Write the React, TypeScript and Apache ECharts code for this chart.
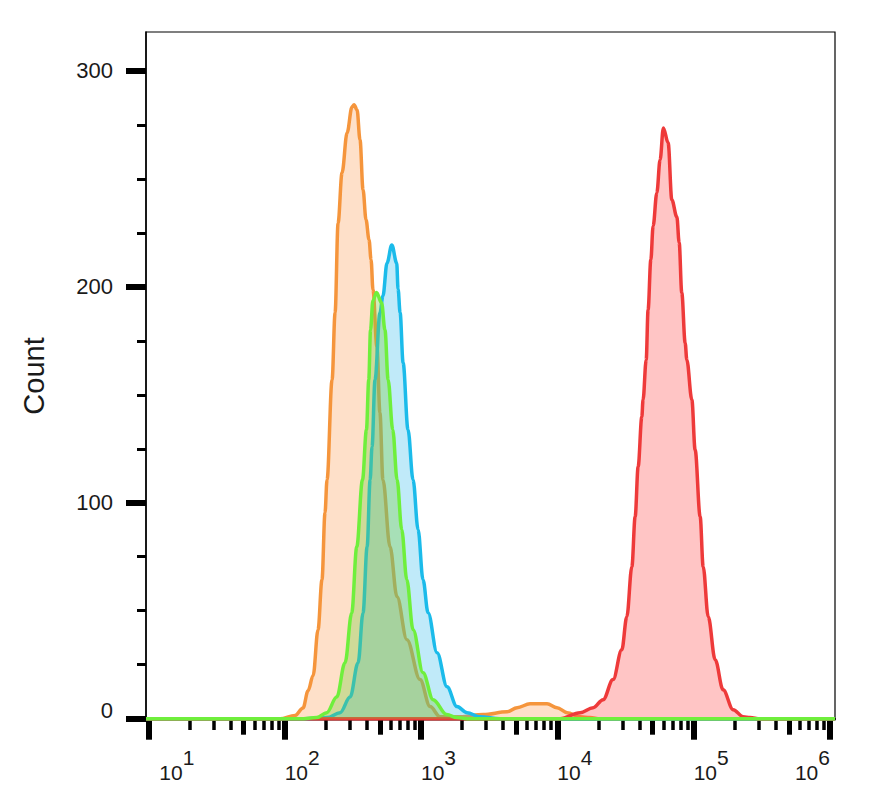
import React, { useEffect, useRef } from 'react';
import * as echarts from 'echarts';

// x values are log10 of fluorescence intensity (decades)
const X_MIN = 0.983;
const X_MAX = 6.037;
const Y_MIN = -0.6;
const Y_MAX = 318;

const decadeTicks = [1, 2, 3, 4, 5, 6];
const decadeLabels = [1, 2, 3, 4, 5];
const lastDecadeLabel = [6];
const halfDecadeMultipliers = [5];
const minorMultipliers = [2, 3, 4, 6, 7, 8, 9];
const yMajorTicks = [0, 100, 200, 300];
const yMinorTicks = [25, 50, 75, 125, 150, 175, 225, 250, 275];

const orangeLog = [0.983, 1.966, 2.076, 2.135, 2.172, 2.209, 2.245, 2.274, 2.296, 2.311, 2.348, 2.37, 2.392, 2.421, 2.458, 2.494, 2.509, 2.531, 2.553, 2.575, 2.597, 2.619, 2.634, 2.648, 2.677, 2.699, 2.721, 2.773, 2.824, 2.897, 2.993, 3.067, 3.14, 3.287, 3.456, 3.632, 3.705, 3.8, 3.925, 3.998, 4.072, 4.167, 4.24, 4.314, 6.037];
const orangeCount = [0, 0, 1.5, 5, 13, 20, 41.2, 64.4, 95.4, 110.6, 157, 188, 229.6, 252.8, 271.3, 283.3, 284.3, 282, 268, 245, 231, 221.8, 212.5, 198.6, 172.2, 141.7, 110.6, 79.6, 56.5, 36.6, 18.1, 5.6, 0.9, 0.9, 1.9, 3.2, 5.1, 6.9, 6.9, 5.1, 2.8, 0.9, 0.5, 0, 0];

const blueLog = [0.983, 2.113, 2.311, 2.407, 2.48, 2.539, 2.575, 2.605, 2.627, 2.641, 2.663, 2.699, 2.721, 2.751, 2.786, 2.822, 2.832, 2.847, 2.869, 2.905, 2.942, 2.979, 3.015, 3.052, 3.118, 3.191, 3.264, 3.338, 3.433, 3.58, 6.037];
const blueCount = [0, 0, 0.5, 2.8, 10, 25.9, 49, 79.6, 110.6, 125.9, 157, 187.9, 195.8, 211, 219.4, 211, 199, 188, 164.8, 133.8, 110.6, 87.5, 64.4, 49.1, 30.6, 14.8, 5.6, 2.8, 0.9, 0, 0];

const redLog = [0.983, 4.021, 4.167, 4.263, 4.336, 4.409, 4.473, 4.51, 4.547, 4.571, 4.593, 4.62, 4.629, 4.652, 4.666, 4.686, 4.703, 4.73, 4.754, 4.778, 4.813, 4.84, 4.877, 4.894, 4.913, 4.938, 4.95, 4.987, 5.011, 5.048, 5.07, 5.107, 5.158, 5.216, 5.29, 5.363, 5.414, 5.487, 6.037];
const redCount = [0, 0, 2.8, 5.1, 8.8, 18.1, 31.9, 47.2, 70.4, 93.5, 116.7, 139.8, 147.7, 166.2, 189.4, 212.5, 228.2, 243.5, 258.8, 273.6, 266.7, 240.3, 232.4, 220.4, 197.2, 174, 166.2, 147.7, 124.5, 93.5, 70.4, 47.2, 27.3, 13.4, 4.2, 0.9, 0.5, 0, 0];

const greenLog = [0.983, 2.113, 2.236, 2.309, 2.382, 2.443, 2.492, 2.529, 2.571, 2.6, 2.617, 2.63, 2.647, 2.674, 2.711, 2.736, 2.759, 2.793, 2.825, 2.859, 2.896, 2.942, 3.015, 3.089, 3.189, 3.263, 3.36, 6.037];
const greenCount = [0, 0, 0.5, 2.8, 10, 25.9, 49, 79.6, 110.6, 133.8, 157, 180, 193.5, 197.4, 192.6, 180, 157, 133.8, 110.6, 87.5, 64.4, 41.2, 21.3, 8.8, 1.9, 0.5, 0, 0];

const FONT = 'Arial, "Liberation Sans", sans-serif';

function zip(xs: number[], ys: number[]) {
  return xs.map((x, i) => [x, ys[i]]);
}

function ticksFor(mults: number[]) {
  const out: number[] = [];
  for (let n = 1; n <= 5; n++) {
    for (const k of mults) out.push(n + Math.log10(k));
  }
  return out;
}

const supRich = {
  b: { fontSize: 21, fontFamily: FONT, color: '#1a1a1a', verticalAlign: 'bottom' },
  b1: { fontSize: 21, fontFamily: FONT, color: '#1a1a1a', verticalAlign: 'bottom', padding: [0, 0, 0, 11] },
  s: { fontSize: 21, fontFamily: FONT, color: '#1a1a1a', verticalAlign: 'bottom', padding: [0, 0, 15, 0] },
};

function makeSeries(name: string, data: number[][], line: string, fill: string, z: number) {
  return {
    name,
    type: 'line',
    data,
    xAxisIndex: 0,
    yAxisIndex: 0,
    showSymbol: false,
    smooth: 0.35,
    smoothMonotone: 'x',
    z,
    lineStyle: { color: line, width: 3.5 },
    areaStyle: { color: fill },
  };
}

export default function App() {
  const ref = useRef<HTMLDivElement>(null);

  useEffect(() => {
    document.body.style.margin = '0';
    if (!ref.current) return;
    const chart = echarts.init(ref.current, undefined, { renderer: 'svg' });

    const baseX = {
      type: 'value',
      min: X_MIN,
      max: X_MAX,
      position: 'bottom',
      gridIndex: 0,
      splitLine: { show: false },
    };

    chart.setOption({
      animation: false,
      backgroundColor: '#ffffff',
      textStyle: { fontFamily: FONT },
      grid: {
        left: 146,
        right: 43,
        top: 32,
        bottom: 85,
        show: true,
        borderColor: '#000',
        borderWidth: 1.2,
        backgroundColor: 'transparent',
      },
      xAxis: [
        {
          ...baseX,
          axisLine: { show: true, lineStyle: { color: '#000', width: 2 } },
          axisTick: { show: true, customValues: decadeTicks, length: 21, lineStyle: { color: '#000', width: 6 } },
          axisLabel: {
            show: true,
            customValues: decadeLabels,
            align: 'left',
            verticalAlign: 'top',
            margin: 27,
            formatter: (v: number) => (Math.round(v) === 1 ? `{b1|10}{s|1}` : `{b|10}{s|${Math.round(v)}}`),
            rich: supRich,
          },
        },
        {
          ...baseX,
          axisLine: { show: false },
          axisTick: { show: true, customValues: ticksFor(halfDecadeMultipliers), length: 16, lineStyle: { color: '#000', width: 5 } },
          axisLabel: { show: false },
        },
        {
          ...baseX,
          axisLine: { show: false },
          axisTick: { show: true, customValues: ticksFor(minorMultipliers), length: 10, lineStyle: { color: '#000', width: 3.5 } },
          axisLabel: { show: false },
        },
        {
          ...baseX,
          axisLine: { show: false },
          axisTick: { show: false },
          axisLabel: {
            show: true,
            customValues: lastDecadeLabel,
            align: 'right',
            verticalAlign: 'top',
            margin: 27,
            formatter: (v: number) => `{b|10}{s|${Math.round(v)}}`,
            rich: supRich,
          },
        },
      ],
      yAxis: [
        {
          type: 'value',
          min: Y_MIN,
          max: Y_MAX,
          position: 'left',
          name: 'Count',
          nameLocation: 'middle',
          nameRotate: 90,
          nameGap: 98,
          nameTextStyle: { fontSize: 29, fontFamily: FONT, color: '#1a1a1a' },
          splitLine: { show: false },
          axisLine: { show: true, lineStyle: { color: '#000', width: 1.5 } },
          axisTick: { show: true, customValues: yMajorTicks, length: 20, lineStyle: { color: '#000', width: 6 } },
          axisLabel: {
            show: true,
            customValues: yMajorTicks,
            margin: 33,
            fontSize: 22,
            fontFamily: FONT,
            color: '#1a1a1a',
            formatter: (v: number) => (v === 0 ? '{z|0}' : String(v)),
            rich: { z: { fontSize: 22, fontFamily: FONT, color: '#1a1a1a', padding: [0, 0, 16, 0] } },
          },
        },
        {
          type: 'value',
          min: Y_MIN,
          max: Y_MAX,
          position: 'left',
          splitLine: { show: false },
          axisLine: { show: false },
          axisTick: { show: true, customValues: yMinorTicks, length: 9, lineStyle: { color: '#000', width: 3 } },
          axisLabel: { show: false },
        },
      ],
      series: [
        makeSeries('Orange', zip(orangeLog, orangeCount), '#F5953C', 'rgba(250,150,70,0.42)', 2),
        makeSeries('Blue', zip(blueLog, blueCount), '#1BBBEA', 'rgba(40,185,235,0.42)', 3),
        makeSeries('Red', zip(redLog, redCount), '#EE3A3A', 'rgba(255,70,70,0.45)', 4),
        makeSeries('Green', zip(greenLog, greenCount), '#6FEF3C', 'rgba(120,205,60,0.5)', 5),
      ],
    });

    return () => {
      chart.dispose();
    };
  }, []);

  return <div ref={ref} style={{ width: 878, height: 805 }} />;
}
